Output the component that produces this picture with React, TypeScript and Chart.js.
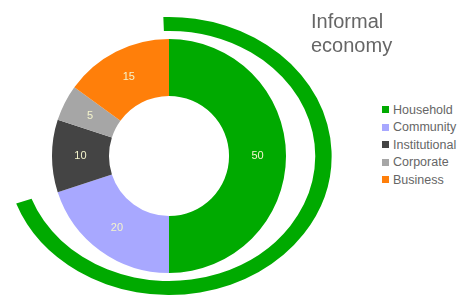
import React, { useEffect, useRef } from "react";
import { Chart, registerables } from "chart.js";

Chart.register(...registerables);

const categories = ["Household", "Community", "Institutional", "Corporate", "Business"];
const values = [50, 20, 10, 5, 15];
const colors = ["#00aa00", "#a8a8ff", "#444444", "#a6a6a6", "#ff7f0a"];
const informalValues = [70, 30];
const titleLines = ["Informal", "economy"];

const ellipsePlugin = {
  id: "ellipseOuter",
  beforeDatasetDraw(chart: any, args: any) {
    if (args.index !== 0) return;
    const ctx = chart.ctx;
    const a = chart.chartArea;
    const cx = (a.left + a.right) / 2;
    ctx.save();
    ctx.translate(cx, 0);
    ctx.scale(1.17, 1);
    ctx.translate(-cx, 0);
  },
  afterDatasetDraw(chart: any, args: any) {
    if (args.index !== 0) return;
    chart.ctx.restore();
  },
};

const valueLabelPlugin = {
  id: "valueLabels",
  afterDatasetsDraw(chart: any) {
    const meta = chart.getDatasetMeta(2);
    const ctx = chart.ctx;
    ctx.save();
    ctx.font = '11px "Liberation Sans", Arial, sans-serif';
    ctx.fillStyle = "#f4f4cc";
    ctx.textAlign = "center";
    ctx.textBaseline = "middle";
    meta.data.forEach((arc: any, i: number) => {
      const p = arc.tooltipPosition();
      ctx.fillText(String(values[i]), p.x, p.y);
    });
    ctx.restore();
  },
};

export default function App() {
  const ref = useRef<HTMLCanvasElement>(null);
  useEffect(() => {
    if (!ref.current) return;
    const chart = new Chart(ref.current, {
      type: "doughnut",
      data: {
        labels: categories,
        datasets: [
          {
            label: "Informal",
            data: informalValues,
            backgroundColor: [colors[0], "rgba(0,0,0,0)"],
            borderWidth: 0,
            weight: 14,
            rotation: -2,
          } as any,
          {
            label: "spacer",
            data: [100],
            backgroundColor: ["rgba(0,0,0,0)"],
            borderWidth: 0,
            weight: 8,
          } as any,
          {
            label: "Economy",
            data: values,
            backgroundColor: colors,
            borderWidth: 0,
            weight: 57,
          } as any,
        ],
      },
      options: {
        responsive: false,
        animation: false,
        cutout: "43.2%",
        layout: { padding: { top: 17, bottom: 10, left: 0, right: 0 } },
        plugins: {
          legend: { display: false },
          tooltip: { enabled: false },
          title: { display: false },
        },
      } as any,
      plugins: [ellipsePlugin, valueLabelPlugin],
    });
    return () => chart.destroy();
  }, []);

  return (
    <div
      style={{
        position: "fixed",
        left: 0,
        top: 0,
        width: 457,
        height: 305,
        background: "#fff",
        overflow: "hidden",
        fontFamily: '"Liberation Sans", Arial, sans-serif',
      }}
    >
      <canvas ref={ref} width={338} height={305} style={{ position: "absolute", left: 0, top: 0 }} />
      <div
        style={{
          position: "absolute",
          left: 311,
          top: 9,
          fontSize: 20,
          lineHeight: "24px",
          color: "#666",
        }}
      >
        {titleLines.map((t) => (
          <div key={t}>{t}</div>
        ))}
      </div>
      <div style={{ position: "absolute", left: 382, top: 101 }}>
        {categories.map((c, i) => (
          <div
            key={c}
            style={{
              display: "flex",
              alignItems: "center",
              height: 17.5,
              fontSize: 12.5,
              color: "#666",
              whiteSpace: "nowrap",
            }}
          >
            <span
              style={{
                display: "inline-block",
                width: 7,
                height: 7,
                background: colors[i],
                marginRight: 4,
              }}
            />
            {c}
          </div>
        ))}
      </div>
    </div>
  );
}
